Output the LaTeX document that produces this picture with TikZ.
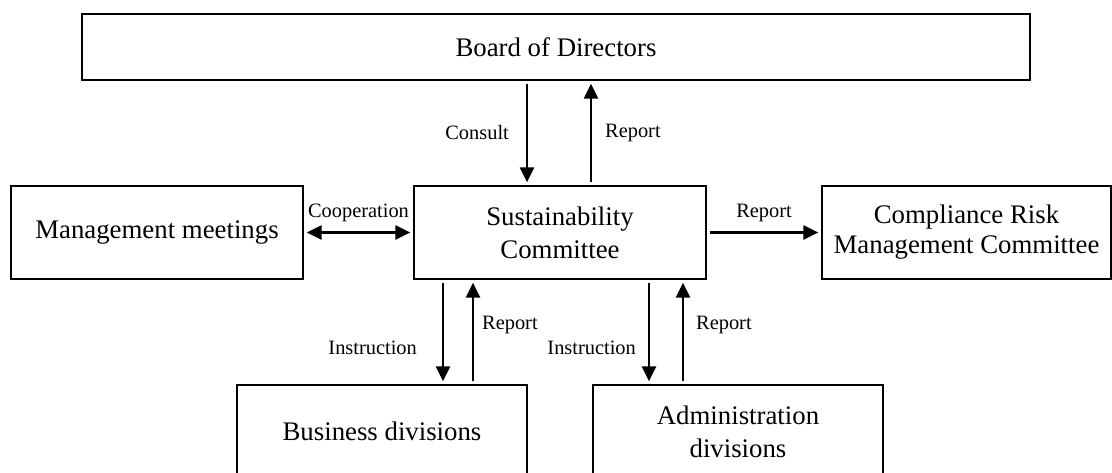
\documentclass[tikz,border=0pt]{standalone}
\usepackage{fontspec}
\setmainfont{Liberation Serif}
\usetikzlibrary{arrows.meta,positioning}

\begin{document}
\begin{tikzpicture}[x=0.5pt,y=-0.5pt,>={Triangle[length=7.5pt,width=7pt]},
  box/.style={draw,line width=0.65pt,inner sep=0pt,align=center,font=\fontsize{13.4}{16.5}\selectfont},
  arr/.style={line width=1.15pt,->,shorten >=1.5pt,shorten <=1.5pt},
  lbl/.style={inner sep=0pt,font=\fontsize{10.2}{12}\selectfont}]
  \useasboundingbox (0,0) rectangle (1112,472);
  \clip (0,0) rectangle (1112,472);
  % boxes
  \node[box,minimum width=474pt,minimum height=33pt] (board) at (556,47) {Board of Directors};
  \node[box,minimum width=146pt,minimum height=46.5pt] (mm) at (157,232.5) {Management meetings};
  \node[box,minimum width=146pt,minimum height=46.5pt] (sc) at (560,232.5) {Sustainability\\Committee};
  \node[box,minimum width=144.5pt,minimum height=46.5pt] (crmc) at (966.5,232.5) {Compliance Risk\\[-1.5pt]Management Committee};
  \node[box,minimum width=145pt,minimum height=46.5pt] (bd) at (382,431.5) {Business divisions};
  \node[box,minimum width=145pt,minimum height=46.5pt] (ad) at (738,431.5) {Administration\\divisions};
  % connectors
  \draw[arr] ([xshift=-14.5pt]board.south) -- ([xshift=-16.5pt]sc.north) node[lbl,midway,left=8.5pt]{Consult};
  \draw[arr] ([xshift=15.5pt]sc.north) -- ([xshift=17.5pt]board.south) node[lbl,midway,right=6.5pt]{Report};
  \draw[arr,<->] (mm.east) -- (sc.west) node[lbl,midway,above=5pt]{Cooperation};
  \draw[arr] (sc.east) -- (crmc.west) node[lbl,midway,above=5pt]{Report};
  \draw[arr] ([xshift=-58.5pt]sc.south) -- ([xshift=30.5pt]bd.north) node[lbl,pos=0.65,left=12.5pt]{Instruction};
  \draw[arr] ([xshift=45.5pt]bd.north) -- ([xshift=-43.5pt]sc.south) node[lbl,pos=0.57,right=4pt]{Report};
  \draw[arr] ([xshift=44.5pt]sc.south) -- ([xshift=-44.5pt]ad.north) node[lbl,pos=0.65,left=6pt]{Instruction};
  \draw[arr] ([xshift=-27.5pt]ad.north) -- ([xshift=61.5pt]sc.south) node[lbl,pos=0.57,right=6pt]{Report};
\end{tikzpicture}
\end{document}
